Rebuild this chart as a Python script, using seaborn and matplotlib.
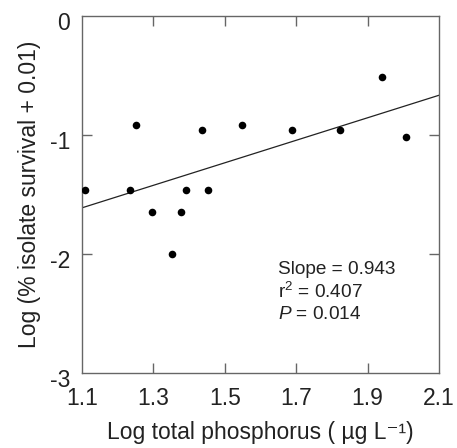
import matplotlib
matplotlib.use("Agg")
import matplotlib.pyplot as plt
import matplotlib.transforms as mtrans
import seaborn as sns
import pandas as pd

# Data
log_tp = [1.108, 1.234, 1.251, 1.297, 1.352, 1.376, 1.391, 1.436, 1.453,
          1.548, 1.689, 1.822, 1.939, 2.008]
log_survival = [-1.46, -1.46, -0.92, -1.65, -2.00, -1.65, -1.46, -0.96, -1.46,
                -0.92, -0.96, -0.96, -0.51, -1.02]
fit_x = [1.1, 2.1]
fit_y = [-1.612, -0.666]
x_ticks = [1.1, 1.3, 1.5, 1.7, 1.9, 2.1]
y_ticks = [0, -1, -2, -3]
stats_text = ["Slope = 0.943", "r$^2$ = 0.407", "$\\it{P}$ = 0.014"]

sns.set_theme(style="ticks")
plt.rcParams['font.family'] = ['Liberation Sans', 'DejaVu Sans']
plt.rcParams['mathtext.fontset'] = 'custom'
plt.rcParams['mathtext.rm'] = 'Liberation Sans'
plt.rcParams['mathtext.it'] = 'Liberation Sans:italic'

df = pd.DataFrame({"x": log_tp, "y": log_survival})
fit = pd.DataFrame({"x": fit_x, "y": fit_y})

fig = plt.figure(figsize=(4.57, 4.48), dpi=100)
ax = fig.add_axes([82/457, 1-373/448, (439-82)/457, (373-16)/448])

sns.lineplot(data=fit, x="x", y="y", ax=ax, color="#222222", lw=0.9)
sns.scatterplot(data=df, x="x", y="y", ax=ax, color="black", s=30,
                edgecolor="black", linewidth=0, zorder=3)

ax.set_xlim(1.1, 2.1)
ax.set_ylim(-3, 0)
ax.set_xticks(x_ticks)
ax.set_xticklabels([f"{t:.1f}" for t in x_ticks])
ax.set_yticks(y_ticks)
ax.set_yticklabels([str(t) for t in y_ticks])

for s in ax.spines.values():
    s.set_color("#666666")
    s.set_linewidth(1.0)
ax.tick_params(direction="in", top=True, right=True, length=7, width=1.0,
               color="#666666", labelsize=16.5, labelcolor="#222222")
ax.tick_params(axis="x", pad=10)
ax.tick_params(axis="y", pad=8.5)
# hide ticks at the corners
for t in ax.xaxis.get_major_ticks():
    if abs(t.get_loc() - 1.1) < 1e-6 or abs(t.get_loc() - 2.1) < 1e-6:
        t.tick1line.set_visible(False); t.tick2line.set_visible(False)
for t in ax.yaxis.get_major_ticks():
    if abs(t.get_loc()) < 1e-6 or abs(t.get_loc() + 3) < 1e-6:
        t.tick1line.set_visible(False); t.tick2line.set_visible(False)

# y tick labels sit slightly below their ticks in the reference
for lab in ax.get_yticklabels():
    lab.set_transform(lab.get_transform() + mtrans.ScaledTranslation(0, -3.5/72, fig.dpi_scale_trans))

ax.set_xlabel("Log total phosphorus ( µg L⁻¹)", fontsize=16.5, color="#222222", labelpad=8)
ax.set_ylabel("Log (% isolate survival + 0.01)", fontsize=16.5, color="#222222", labelpad=6)

for i, txt in enumerate(stats_text):
    ax.text(0.548, 0.291 - i*0.063, txt, transform=ax.transAxes, fontsize=13.7,
            color="#222222", va="center", ha="left")

fig.savefig("out.png", dpi=100)
